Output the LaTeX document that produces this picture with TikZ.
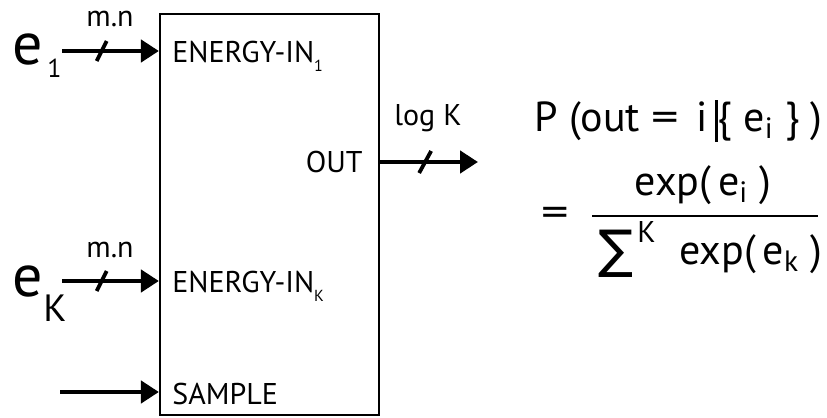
\documentclass[tikz,border=0pt]{standalone}
\usepackage{fontspec}
\setmainfont{PT Sans}
\newfontfamily\symfont{DejaVu Sans}
\usetikzlibrary{arrows.meta}
\tikzset{
  sig/.style={-{Triangle[length=9pt,width=11pt]}, line width=2.4pt},
  busmark/.style={line width=1.9pt},
  lbl/.style={font=\fontsize{15}{17}\selectfont, inner sep=0pt, anchor=base west},
  small/.style={font=\fontsize{15}{17}\selectfont, inner sep=0pt, anchor=base},
  frm/.style={font=\fontsize{21}{24}\selectfont, inner sep=0pt},
}
\newcommand{\lowidx}[1]{\raisebox{-4.5pt}{\fontsize{8}{8}\selectfont #1}}

\begin{document}
\begin{tikzpicture}[x=0.5pt, y=0.5pt]
	\useasboundingbox (0,0) rectangle (827,418);
	% Block
	\node[draw, line width=1.1pt, minimum width=109.5pt, minimum height=200.5pt, inner sep=0pt] (blk) at (269.5,203.5) {};
	% Eingaenge
	\coordinate (s1) at (62,367);
	\coordinate (sK) at (62,137);
	\coordinate (sS) at (60,26);
	\draw[sig] (s1) -- coordinate[pos=0.41] (b1) (s1 -| blk.west);
	\draw[sig] (sK) -- coordinate[pos=0.41] (bK) (sK -| blk.west);
	\draw[sig] (sS) -- (sS -| blk.west);
	\foreach \b in {b1,bK} \draw[busmark] ([shift={(-5,-10)}]\b) -- ([shift={(5,10)}]\b);
	\node[small] (w1) at (110,391) {m.n};
	\node[small] (wK) at (110,160) {m.n};
	% Signalnamen
	\node[anchor=base west, inner sep=0pt, font=\fontsize{30}{30}\selectfont] (e1) at (12,353) {e};
	\node[anchor=base west, inner sep=0pt, font=\fontsize{13}{13}\selectfont] (i1) at (47,340) {1};
	\node[anchor=base west, inner sep=0pt, font=\fontsize{30}{30}\selectfont] (eK) at (12,121) {e};
	\node[anchor=base west, inner sep=0pt, font=\fontsize{19}{19}\selectfont] (iK) at (43,96) {K};
	% Beschriftung im Block
	\node[lbl] (en1) at (172,355) {ENERGY-IN\lowidx{1}};
	\node[lbl] (enK) at (172,125) {ENERGY-IN\lowidx{K}};
	\node[lbl] (smp) at (172,13) {SAMPLE};
	\node[lbl, anchor=base east] (out) at (363,245) {OUT};
	% Ausgang
	\coordinate (so) at (478,256);
	\draw[sig] (so -| blk.east) -- coordinate[pos=0.46] (bo) (so);
	\draw[busmark] ([shift={(-6,-11)}]bo) -- ([shift={(6,11)}]bo);
	\node[small] (wo) at (428,292) {log K};
	% Formel
	\node[frm, anchor=base west] (pr) at (534,286) {P (out \scalebox{1.3}[1]{=} \,i\,\rule[-5pt]{1.3pt}{21pt}\{ e\textsubscript{i} \} )};
	\node[frm] (eq) at (555,201) {\scalebox{1.3}[1]{=}};
	\node[frm, anchor=base] (num) at (703,222) {exp(\,e\textsubscript{i} )};
	\coordinate (fl) at (592,202);
	\coordinate (fr) at (818,202);
	\draw[line width=1.4pt] (fl) -- (fr);
	\node[inner sep=0pt, font=\symfont\fontsize{26}{26}\selectfont] (sum) at (616,164.5) {∑};
	\node[anchor=base west, inner sep=0pt, font=\fontsize{15}{15}\selectfont] (sup) at (637,175) {K};
	\node[frm, anchor=base west] (den) at (679,153) {exp(\,e\textsubscript{k} )};
\end{tikzpicture}
\end{document}
